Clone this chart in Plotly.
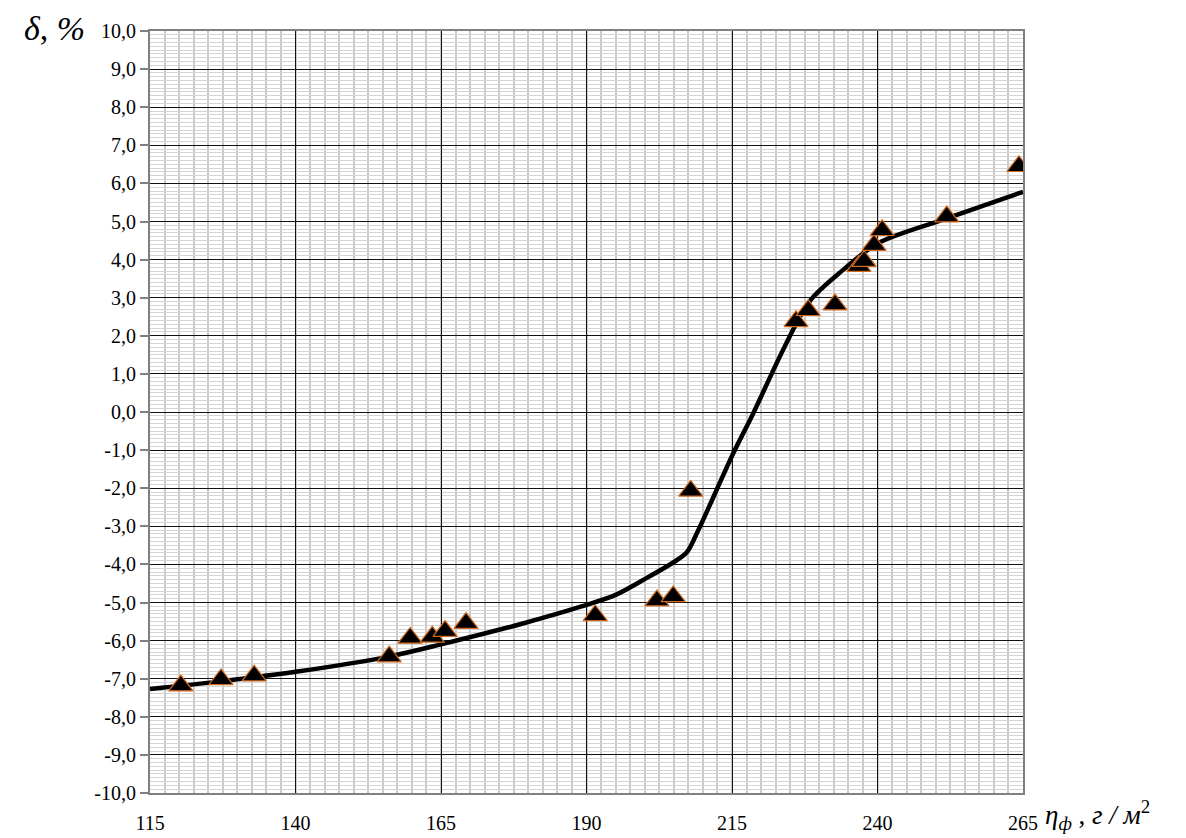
import plotly.graph_objects as go

# Measured points (eta_f, delta)
pts_x = [120.3, 127.2, 132.9, 156.1, 159.7, 163.5, 165.7, 169.3, 191.5, 202.1, 204.9, 207.9,
         226.0, 228.1, 232.7, 236.8, 237.7, 239.4, 240.8, 251.9, 264.3]
pts_y = [-7.18, -7.02, -6.92, -6.42, -5.93, -5.90, -5.75, -5.54, -5.34, -4.95, -4.84, -2.07,
         2.38, 2.67, 2.82, 3.83, 3.96, 4.38, 4.77, 5.13, 6.45]

# Approximating curve
curve_x = [115, 127, 140, 156, 165, 178.6, 189, 195, 200.3, 204.9, 207.2,
           209, 215.2, 218.6, 224.0, 228.3, 234.1, 240.1, 251.9, 265]
curve_y = [-7.27, -7.07, -6.82, -6.42, -6.10, -5.57, -5.11, -4.80, -4.36, -3.95, -3.69,
           -3.17, -1.09, -0.05, 1.7, 2.9, 3.73, 4.43, 5.08, 5.78]

x_ticks = [115, 140, 165, 190, 215, 240, 265]
y_ticks = list(range(-10, 11))
y_ticktext = [f"{v:.1f}".replace(".", ",") for v in y_ticks]

fig = go.Figure()
fig.add_trace(go.Scatter(x=curve_x, y=curve_y, mode="lines",
                         line=dict(color="black", width=4.5, shape="spline", smoothing=0.9),
                         showlegend=False, hoverinfo="skip"))
fig.add_trace(go.Scatter(x=pts_x, y=pts_y, mode="markers",
                         marker=dict(symbol="triangle-up", size=21, color="black",
                                     line=dict(color="#d2691e", width=1.2)),
                         showlegend=False))

serif = "Liberation Serif, Times New Roman, serif"
tick_font = dict(family=serif, size=20, color="black")

fig.update_layout(
    width=1186, height=838, autosize=False,
    margin=dict(l=142, r=171, t=17, b=49),
    paper_bgcolor="white", plot_bgcolor="white",
    xaxis=dict(range=[115, 265], tickvals=x_ticks, ticktext=[str(v) for v in x_ticks],
               showgrid=True, gridcolor="#111111", gridwidth=1,
               minor=dict(dtick=2.5, tick0=115, showgrid=True, gridcolor="#c8c8c8", gridwidth=1.6, ticks=""),
               showline=True, mirror=True, linecolor="#808080", linewidth=2,
               ticks="", zeroline=False, tickfont=tick_font, ticklabelstandoff=11),
    yaxis=dict(range=[-10, 10], tickvals=y_ticks, ticktext=y_ticktext,
               showgrid=True, gridcolor="#111111", gridwidth=1.2,
               minor=dict(dtick=0.1, tick0=0, showgrid=True, gridcolor="#d4d4d4", gridwidth=1, ticks=""),
               showline=True, mirror=True, linecolor="#808080", linewidth=2,
               ticks="outside", ticklen=8, tickcolor="#808080", tickwidth=1.5,
               zeroline=False, tickfont=tick_font),
    annotations=[
        dict(xref="paper", yref="paper", x=0, y=1, xanchor="right", yanchor="middle",
             xshift=-63, yshift=3, showarrow=False,
             text="<i>δ</i>, <i>%</i>",
             font=dict(family=serif, size=34, color="black")),
        dict(xref="paper", yref="paper", x=1, y=0, xanchor="left", yanchor="middle",
             xshift=20, yshift=-22, showarrow=False,
             text="<i>η</i><sub><i>ф</i></sub> , <i>г / м</i><sup>2</sup>",
             font=dict(family=serif, size=27, color="black")),
    ],
)

fig.write_html("out.html")
